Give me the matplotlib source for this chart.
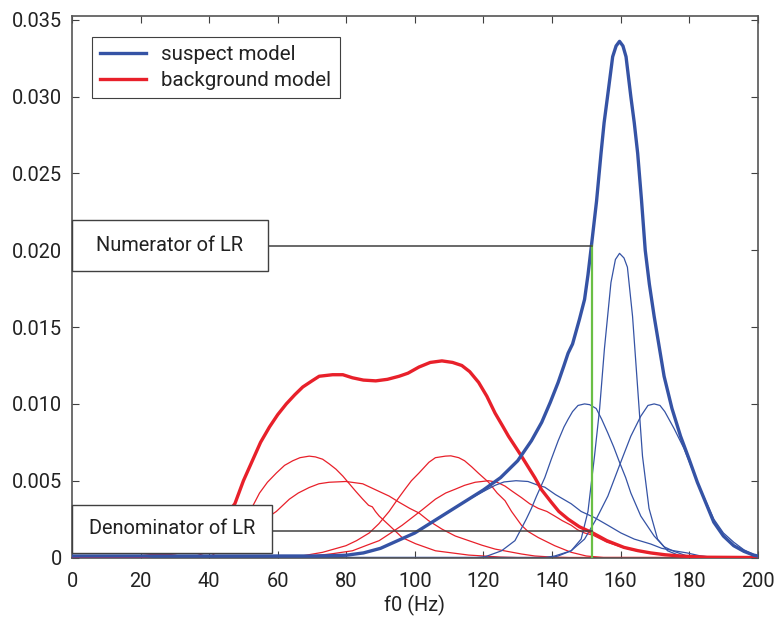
import matplotlib
matplotlib.use('Agg')
import matplotlib.pyplot as plt
from matplotlib.patches import Rectangle

# values (f0 in Hz, density)
suspect_f = [0, 20, 40, 60, 70, 75, 80, 85, 90, 95, 100, 105, 110, 115, 120, 125, 130, 134, 137,
             139.5, 141.8, 143.5, 144.7, 146, 147, 148, 149.5, 150.5, 151.4, 153, 154.3, 155.2, 156.2,
             157.7, 158.7, 159.7, 160.7, 161.6, 163, 164, 165, 166.1, 167.2, 168.4, 169.8, 172.7, 175,
             177.5, 180, 182.4, 187.2, 190, 193, 196, 198.8, 200]
suspect_v = [0.0001, 0.0001, 0.0001, 0.0001, 0.0001, 0.00012, 0.00015, 0.0003, 0.0006, 0.0011, 0.0016,
             0.0023, 0.0030, 0.0037, 0.0044, 0.0052, 0.0063, 0.0076, 0.0088, 0.0101, 0.0114, 0.0125,
             0.0133, 0.0139, 0.0147, 0.0155, 0.0168, 0.0184, 0.0201, 0.0232, 0.0263, 0.0283, 0.0300,
             0.0326, 0.0333, 0.0336, 0.0333, 0.0326, 0.0300, 0.0283, 0.0263, 0.0233, 0.0200, 0.0178,
             0.0157, 0.0118, 0.0097, 0.0079, 0.0064, 0.0049, 0.0023, 0.0014, 0.00077, 0.0004, 0.00016,
             0.0001]

background_f = [0, 15, 20, 25, 30, 35, 40, 43, 45, 47.5, 50, 52.8, 55, 57.6, 60, 62.5, 65, 67.3, 70,
                72.1, 76, 79, 81.8, 85, 88.6, 92, 95.4, 98, 101.2, 104.5, 107.9, 111, 113.7, 116, 118.6,
                121, 123.4, 125.5, 127.3, 131.1, 135, 137, 139.8, 142, 144.7, 148, 151.9, 156, 161, 165,
                168.8, 173, 177.5, 185, 200]
background_v = [0, 0, 0.00005, 0.00018, 0.0003, 0.0006, 0.0013, 0.0021, 0.0028, 0.0035, 0.0050, 0.0064,
                0.0075, 0.0085, 0.0093, 0.0100, 0.0106, 0.0111, 0.0115, 0.0118, 0.0119, 0.0119, 0.0117,
                0.01155, 0.0115, 0.0116, 0.0118, 0.0120, 0.0124, 0.0127, 0.0128, 0.0127, 0.0125, 0.0121,
                0.0114, 0.0105, 0.0094, 0.0086, 0.0079, 0.0066, 0.0052, 0.0044, 0.0036, 0.0030, 0.0025,
                0.0020, 0.0016, 0.0011, 0.00066, 0.00045, 0.0003, 0.00018, 0.0001, 0.00002, 0]

# suspect model components
s1_f = [0, 40, 60, 75, 80, 85, 90, 95, 100, 105, 110, 115, 120, 123.4, 126, 129.5, 133, 136, 137.9,
        141, 145.6, 148.5, 152.4, 156.3, 160.1, 164, 168.8, 172, 175.6, 179.4, 183, 186, 200]
s1_v = [0.0001, 0.0001, 0.0001, 0.00012, 0.00015, 0.0003, 0.0006, 0.0011, 0.0016, 0.0023, 0.0030, 0.0037,
        0.0043, 0.0047, 0.00492, 0.0050, 0.00495, 0.0047, 0.00458, 0.0041, 0.0035, 0.0030, 0.0026, 0.0021,
        0.0016, 0.0012, 0.00088, 0.0006, 0.00044, 0.0003, 0.00012, 0.00004, 0]
s2_f = [0, 118, 120.5, 125.3, 129.2, 131.1, 132.5, 134, 135.5, 137.9, 139.8, 141.8, 143.5, 144.7, 146,
        147.6, 149.5, 151, 152.9, 154.5, 156.3, 158, 159.7, 161.5, 163, 165.9, 169.8, 172.7, 175.6, 179.4,
        183, 200]
s2_v = [0, 0, 0.00005, 0.00044, 0.0011, 0.0019, 0.0025, 0.0032, 0.0040, 0.0052, 0.0064, 0.0076, 0.0085,
        0.0090, 0.0095, 0.0099, 0.0100, 0.00995, 0.0097, 0.0090, 0.0081, 0.0072, 0.0062, 0.0052, 0.0042,
        0.0027, 0.0014, 0.0007, 0.0004, 0.0001, 0, 0]
s3_f = [0, 140, 141.8, 145.6, 148.5, 150.5, 152.4, 153.9, 155.3, 157.2, 158.5, 159.7, 161, 162, 163.5,
        165, 166.4, 168.3, 170.8, 173.7, 177.5, 180, 200]
s3_v = [0, 0, 0.0001, 0.00044, 0.0012, 0.0030, 0.0066, 0.0097, 0.0136, 0.0179, 0.0194, 0.0198, 0.0195,
        0.0189, 0.0157, 0.0110, 0.0066, 0.0032, 0.0012, 0.00044, 0.0001, 0, 0]
s4_f = [0, 138, 140.8, 145.6, 149.5, 152.9, 156.3, 159.7, 163, 165.9, 168, 169.8, 171.5, 172.9, 175.6,
        178.5, 182.4, 187.2, 190, 193, 196, 198.8, 200]
s4_v = [0, 0, 0.0001, 0.00044, 0.0012, 0.0025, 0.0040, 0.0060, 0.0079, 0.0092, 0.0099, 0.0100, 0.0099,
        0.0095, 0.0084, 0.0071, 0.0049, 0.0025, 0.0016, 0.0010, 0.0005, 0.0002, 0.0001]

# background model components
b1_f = [0, 40, 45, 50, 53.3, 54.7, 57, 59.6, 62, 64.4, 66.5, 69.2, 71, 73.1, 75, 77, 79, 80.9, 82.8,
        84.8, 86.5, 87.6, 88.5, 89.6, 92.5, 96.3, 100.2, 106, 115.7, 125, 130, 200]
b1_v = [0, 0, 0.0008, 0.0022, 0.0036, 0.0042, 0.0049, 0.0055, 0.0060, 0.0063, 0.0065, 0.0066, 0.00655,
        0.0064, 0.0061, 0.00575, 0.0053, 0.0048, 0.0043, 0.0038, 0.0034, 0.0033, 0.0030, 0.0027, 0.0021,
        0.0013, 0.0009, 0.00044, 0.00016, 0.00003, 0, 0]
b2_f = [0, 35, 45, 50, 55, 59.6, 63.4, 66, 69.2, 72, 75, 79.9, 84.8, 89.6, 92.5, 95.4, 98.5, 101.2, 104,
        107.9, 111.8, 115.7, 119.6, 123.4, 127, 131.1, 135, 140, 145, 200]
b2_v = [0, 0, 0.0008, 0.0015, 0.0023, 0.0030, 0.0038, 0.0042, 0.00456, 0.0048, 0.0049, 0.00495, 0.0048,
        0.0043, 0.0040, 0.0036, 0.0032, 0.0029, 0.0024, 0.00185, 0.0014, 0.0011, 0.0008, 0.00055, 0.0004,
        0.00023, 0.0001, 0.00003, 0, 0]
b3_f = [0, 60, 67, 73.1, 79.9, 83, 86.7, 89.5, 92.5, 95, 97.3, 99, 101.2, 104.1, 106, 108.9, 110.5, 112.8,
        114.5, 116.6, 118.5, 121.5, 124, 126.3, 128.2, 131.1, 133, 136, 140.8, 145.6, 150, 155, 200]
b3_v = [0, 0, 0.0001, 0.00034, 0.00077, 0.0011, 0.0016, 0.0022, 0.0030, 0.0038, 0.0045, 0.0050, 0.0055,
        0.0062, 0.0065, 0.0066, 0.00662, 0.0065, 0.0063, 0.0059, 0.0055, 0.0049, 0.0042, 0.0037, 0.0030,
        0.0021, 0.0017, 0.0013, 0.00077, 0.00034, 0.0001, 0, 0]
b4_f = [0, 65, 70.2, 76, 81.8, 86, 89.6, 93, 96.3, 99.2, 102.1, 106, 109, 111.8, 114.5, 117.6, 121.5, 124,
        126.3, 128.5, 131.1, 133.5, 136, 138.5, 140.8, 143, 145.6, 147.5, 149.5, 152, 156, 161, 165, 168.8,
        173, 177.5, 183, 188, 200]
b4_v = [0, 0, 0.0001, 0.00025, 0.00044, 0.0008, 0.0011, 0.0016, 0.0021, 0.0026, 0.0031, 0.0038, 0.0042,
        0.00445, 0.0047, 0.0049, 0.0050, 0.0049, 0.00465, 0.0043, 0.0039, 0.0035, 0.0032, 0.0030, 0.0027,
        0.0024, 0.0021, 0.0018, 0.0016, 0.00145, 0.0010, 0.00063, 0.00042, 0.00028, 0.00016, 0.00008,
        0.00002, 0, 0]

# the evidence value and the two heights of the LR
lr_f0 = 151.6
numerator = 0.0203
denominator = 0.0017

x_ticks = [0, 20, 40, 60, 80, 100, 120, 140, 160, 180, 200]
y_ticks = [0, 0.005, 0.010, 0.015, 0.020, 0.025, 0.030, 0.035]
y_labels = ['0', '0.005', '0.010', '0.015', '0.020', '0.025', '0.030', '0.035']

BLUE = '#3553a5'
RED = '#e8202a'
GREEN = '#6abf45'
DARK = '#404040'

plt.rcParams['font.family'] = ['Roboto', 'DejaVu Sans']
plt.rcParams['font.size'] = 14.4

fig = plt.figure(figsize=(7.76, 6.18), dpi=100)
ax = fig.add_axes([0.0928, 0.0971, 0.8836, 0.8770])

for f, v in [(b1_f, b1_v), (b2_f, b2_v), (b3_f, b3_v), (b4_f, b4_v)]:
    ax.plot(f, v, color=RED, lw=0.9, zorder=2)
for f, v in [(s1_f, s1_v), (s2_f, s2_v), (s3_f, s3_v), (s4_f, s4_v)]:
    ax.plot(f, v, color=BLUE, lw=0.9, zorder=2.2)

bg_line, = ax.plot(background_f, background_v, color=RED, lw=2.4, zorder=3, label='background model')
sus_line, = ax.plot(suspect_f, suspect_v, color=BLUE, lw=2.4, zorder=3.5, label='suspect model')

# LR construction lines
ax.plot([lr_f0, lr_f0], [0, numerator], color=GREEN, lw=1.6, zorder=4)
ax.plot([0, lr_f0], [numerator, numerator], color=DARK, lw=1.1, zorder=4)
ax.plot([0, lr_f0], [denominator, denominator], color=DARK, lw=1.1, zorder=4)

ax.add_patch(Rectangle((0, 0.5295), 0.2858, 0.0941, transform=ax.transAxes, fc='white',
                       ec=DARK, lw=1.0, zorder=5, clip_on=False))
ax.text(0.1429, 0.5765, 'Numerator of LR', transform=ax.transAxes, ha='center', va='center',
        color='#222222', zorder=6)
ax.add_patch(Rectangle((0, 0.0098), 0.2917, 0.088, transform=ax.transAxes, fc='white',
                       ec=DARK, lw=1.0, zorder=5, clip_on=False))
ax.text(0.1458, 0.0538, 'Denominator of LR', transform=ax.transAxes, ha='center', va='center',
        color='#222222', zorder=6)

leg = ax.legend([sus_line, bg_line], ['suspect model', 'background model'], loc='upper left',
                bbox_to_anchor=(0.0292, 0.9613), borderaxespad=0, fancybox=False, framealpha=1,
                edgecolor=DARK, fontsize=14.8, handlelength=2.2, handletextpad=0.75, borderpad=0.41,
                labelspacing=0.32)
leg.get_frame().set_linewidth(0.8)
leg.set_zorder(7)
for t in leg.get_texts():
    t.set_color('#222222')

ax.set_xlim(0, 200)
ax.set_ylim(-0.00003, 0.03525)
ax.set_xticks(x_ticks)
ax.set_yticks(y_ticks)
ax.set_yticklabels(y_labels)
ax.tick_params(direction='in', length=5, width=0.8, color=DARK, labelcolor='#222222',
               top=True, right=True, pad=7)
ax.tick_params(axis='x', pad=10)
for s in ax.spines.values():
    s.set_color('#555555')
    s.set_linewidth(1.2)
ax.set_xlabel('f0 (Hz)', color='#222222', labelpad=3)

fig.savefig('out.png', dpi=100)
